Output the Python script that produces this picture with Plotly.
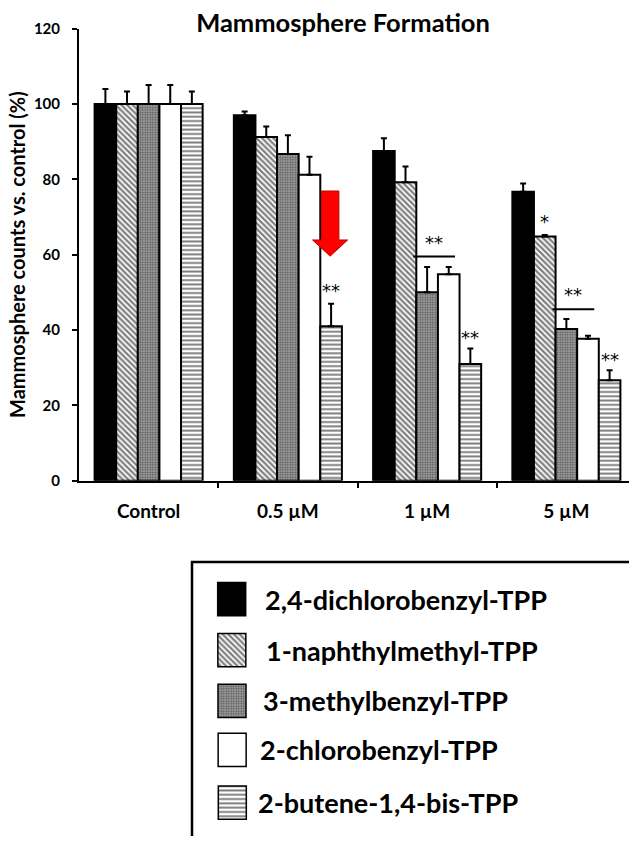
import plotly.graph_objects as go

categories = ["Control", "0.5 µM", "1 µM", "5 µM"]
series_names = ["2,4-dichlorobenzyl-TPP", "1-naphthylmethyl-TPP", "3-methylbenzyl-TPP",
                "2-chlorobenzyl-TPP", "2-butene-1,4-bis-TPP"]
values = [
    [100, 97.0, 87.5, 76.7],
    [100, 91.2, 79.2, 64.8],
    [100, 86.7, 50.0, 40.3],
    [100, 81.2, 54.8, 37.7],
    [100, 41.0, 31.0, 26.7],
]
errors = [
    [4.0, 1.0, 3.4, 2.2],
    [3.3, 2.8, 4.2, 0.4],
    [5.0, 5.0, 6.7, 2.6],
    [5.0, 4.8, 1.9, 0.8],
    [3.3, 6.0, 4.1, 2.6],
]
# significance marks: (group index, series index or pair, label, value level)
stars_single = [(1, 4, "**", 50.5), (2, 4, "**", 38.0), (3, 1, "*", 68.7), (3, 4, "**", 32.3)]
stars_pair = [(2, (2, 3), "**", 59.5), (3, (2, 3), "**", 45.5)]

W, H = 629, 844
FONT = "Lato"
styles = [
    dict(color="black", pattern=None),
    dict(color="white", pattern=dict(shape="\\", fgcolor="black", bgcolor="white", size=4, solidity=0.55)),
    dict(color="#888", pattern=dict(shape=".", fgcolor="#111", bgcolor="#aaa", size=2.5, solidity=0.5)),
    dict(color="white", pattern=None),
    dict(color="white", pattern=dict(shape="-", fgcolor="black", bgcolor="white", size=4.3, solidity=0.45)),
]

xs = list(range(len(categories)))
fig = go.Figure()
for i, name in enumerate(series_names):
    st = styles[i]
    marker = dict(color=st["color"], line=dict(color="black", width=2))
    if st["pattern"]:
        marker["pattern"] = st["pattern"]
    fig.add_trace(go.Bar(
        x=xs, y=values[i], name=name, marker=marker, showlegend=False,
        error_y=dict(type="data", symmetric=False, array=errors[i],
                     arrayminus=[0] * len(xs), color="black", thickness=2, width=3),
        xaxis="x", yaxis="y",
    ))

# plot geometry (pixels)
L, R, T, B = 79, W, 19, 481
x_lo = -0.5
x_hi = x_lo + (R - L) / 139.25
bar_w = 0.776 / 5

def bar_x(g, s):
    return g + (s - 2) * bar_w

STAR_FONT = dict(family="DejaVu Sans", size=18, color="#000000")
for g, s, lab, lev in stars_single:
    fig.add_annotation(x=bar_x(g, s), y=lev, text=lab, showarrow=False, xref="x", yref="y",
                       font=STAR_FONT, yanchor="middle")
for g, (s1, s2), lab, lev in stars_pair:
    x0 = bar_x(g, s1) - 0.1
    x1 = bar_x(g, s2) + 0.045
    fig.add_shape(type="line", x0=x0, x1=x1, y0=lev, y1=lev, xref="x", yref="y",
                  line=dict(color="black", width=2))
    fig.add_annotation(x=(x0 + x1) / 2, y=lev + 3.8, text=lab, showarrow=False, xref="x", yref="y",
                       font=STAR_FONT, yanchor="middle")

# red arrow above the 0.5 µM 2-butene bar
ax = bar_x(1, 4) - 0.007
sw, hw = 0.063, 0.126
ytop, ybase, ytip = 76.9, 63.9, 59.6
path = (f"M {ax-sw},{ytop} L {ax+sw},{ytop} L {ax+sw},{ybase} L {ax+hw},{ybase} "
        f"L {ax},{ytip} L {ax-hw},{ybase} L {ax-sw},{ybase} Z")
fig.add_shape(type="path", path=path, xref="x", yref="y", fillcolor="#ff0000",
              line=dict(color="#c00000", width=1))

# custom legend on pixel-like overlay axes
row_y = [602, 654, 706, 756, 810]
lab_x = [263, 264, 261, 258, 256]
for i, name in enumerate(series_names):
    st = styles[i]
    marker = dict(color=st["color"], line=dict(color="black", width=1.5))
    if st["pattern"]:
        marker["pattern"] = st["pattern"]
    fig.add_trace(go.Bar(x=[232], y=[34], base=[row_y[i] - 17], width=[28], marker=marker,
                         xaxis="x2", yaxis="y2", showlegend=False, hoverinfo="skip"))
    fig.add_annotation(x=lab_x[i], y=row_y[i], text=f"<b>{name}</b>", showarrow=False,
                       xref="x2", yref="y2", xanchor="left", yanchor="middle",
                       font=dict(family=FONT, size=27, color="black"))
fig.add_shape(type="rect", x0=192, x1=W + 20, y0=564, y1=H + 20, xref="x2", yref="y2",
              line=dict(color="black", width=2.5))

fig.update_layout(
    width=W, height=H, margin=dict(l=0, r=0, t=0, b=0),
    paper_bgcolor="white", plot_bgcolor="rgba(0,0,0,0)",
    barmode="group", bargap=0.224, bargroupgap=0,
    title=dict(text="<b>Mammosphere Formation</b>", x=343 / W, xanchor="center",
               y=1 - 23 / H, yanchor="middle", font=dict(family=FONT, size=25.5, color="black")),
    xaxis=dict(domain=[L / W, 1], range=[x_lo, x_hi], tickvals=xs,
               ticktext=[f"<b>{c}</b>" for c in categories],
               showline=True, linecolor="black", linewidth=2, ticks="", showgrid=False,
               zeroline=False, tickfont=dict(family=FONT, size=19, color="black"), anchor="y",
               ticklabelstandoff=12,
               minor=dict(tickvals=[x + 0.5 for x in xs], ticks="outside", ticklen=5,
                          tickwidth=2, tickcolor="black")),
    yaxis=dict(domain=[(H - B) / H, (H - T) / H], range=[0, 120], dtick=20,
               showline=True, linecolor="black", linewidth=2, ticks="outside", ticklen=5,
               tickwidth=2, tickcolor="black", showgrid=False, zeroline=False,
               ticklabelstandoff=9,
               tickfont=dict(family=FONT, size=15, color="black", weight="bold"), anchor="x",
               title=dict(text="<b>Mammosphere counts vs. control (%)</b>",
                          font=dict(family=FONT, size=20, color="black"), standoff=3)),
    xaxis2=dict(domain=[0, 1], range=[0, W], visible=False, fixedrange=True, anchor="y2"),
    yaxis2=dict(domain=[0, 1], range=[H, 0], visible=False, fixedrange=True, anchor="x2"),
)
fig.write_html("out.html")
